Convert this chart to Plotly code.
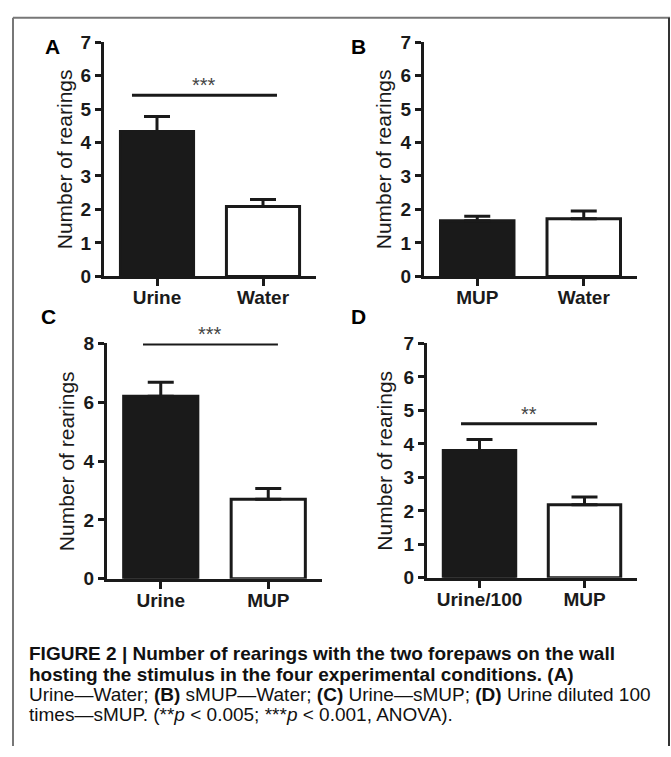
import plotly.graph_objects as go

W, H = 671, 757

# ---------------- data ----------------
cats_a = ["Urine", "Water"]
vals_a = [4.33, 2.09]
err_a = [0.45, 0.21]
sig_a = 5.41
stars_a = "***"

cats_b = ["MUP", "Water"]
vals_b = [1.66, 1.72]
err_b = [0.14, 0.23]

cats_c = ["Urine", "MUP"]
vals_c = [6.21, 2.70]
err_c = [0.47, 0.37]
sig_c = 7.98
stars_c = "***"

cats_d = ["Urine/100", "MUP"]
vals_d = [3.80, 2.18]
err_d = [0.33, 0.23]
sig_d = 4.60
stars_d = "**"

yticks_7 = [0, 1, 2, 3, 4, 5, 6, 7]
yticks_8 = [0, 2, 4, 6, 8]

ytitle = "Number of rearings"

FONT = "Liberation Sans, Arial, Helvetica, sans-serif"
NARROW = "Liberation Sans Narrow, Arial Narrow, Liberation Sans, Arial, sans-serif"
INK = "#1a1a1a"


def px(v):
    return v / W


def py(v):
    return 1 - v / H


panels = [
    dict(cats=cats_a, vals=vals_a, err=err_a, ticks=yticks_7, ymax=7,
         xd=(104, 316), yd=(33, 274), sig=sig_a, stars=stars_a, sigx=(-0.236, 1.132),
         letter="A", lpos=(52, 38), tx=64),
    dict(cats=cats_b, vals=vals_b, err=err_b, ticks=yticks_7, ymax=7,
         xd=(424, 637), yd=(33, 274), sig=None, stars=None, sigx=None,
         letter="B", lpos=(358, 38), tx=383),
    dict(cats=cats_c, vals=vals_c, err=err_c, ticks=yticks_8, ymax=8,
         xd=(107, 322), yd=(343, 585), sig=sig_c, stars=stars_c, sigx=(-0.165, 1.09),
         letter="C", lpos=(48, 315), tx=66),
    dict(cats=cats_d, vals=vals_d, err=err_d, ticks=yticks_7, ymax=7,
         xd=(427, 637), yd=(343, 584), sig=sig_d, stars=stars_d, sigx=(-0.176, 1.119),
         letter="D", lpos=(358, 315), tx=385),
]

fig = go.Figure()
layout = {}
annotations = []
shapes = []

for i, p in enumerate(panels, start=1):
    xa = "x" if i == 1 else f"x{i}"
    ya = "y" if i == 1 else f"y{i}"
    xkey = "xaxis" if i == 1 else f"xaxis{i}"
    ykey = "yaxis" if i == 1 else f"yaxis{i}"

    fig.add_trace(go.Bar(
        x=[0, 1], y=p["vals"], width=0.69,
        marker=dict(color=[INK, "white"], line=dict(color=INK, width=3)),
        error_y=dict(type="data", array=p["err"], arrayminus=[0, 0], symmetric=False,
                     thickness=3, width=13, color=INK),
        xaxis=xa, yaxis=ya, showlegend=False, hoverinfo="skip",
    ))

    if p["sig"] is not None:
        fig.add_trace(go.Scatter(
            x=list(p["sigx"]), y=[p["sig"], p["sig"]], mode="lines",
            line=dict(color=INK, width=3), cliponaxis=False,
            xaxis=xa, yaxis=ya, showlegend=False, hoverinfo="skip",
        ))
        annotations.append(dict(
            x=(p["sigx"][0] + p["sigx"][1]) / 2, y=p["sig"], xref=xa, yref=ya,
            text=p["stars"], showarrow=False, yanchor="bottom", yshift=-3,
            font=dict(family=FONT, size=20, color="#444"),
        ))

    layout[xkey] = dict(
        domain=[px(p["xd"][0]), px(p["xd"][1])], anchor=ya,
        range=[-0.5, 1.5], tickmode="array", tickvals=[0, 1], ticktext=p["cats"],
        showline=True, linewidth=3, linecolor=INK, showgrid=False, zeroline=False,
        ticks="outside", ticklen=7, tickwidth=3, tickcolor=INK, ticklabelstandoff=-5,
        tickfont=dict(family=FONT, size=19, color=INK, weight="bold"),
        fixedrange=True,
    )
    layout[ykey] = dict(
        domain=[py(p["yd"][1]), py(p["yd"][0])], anchor=xa,
        range=[0, p["ymax"]], tickmode="array", tickvals=p["ticks"],
        showline=True, linewidth=3, linecolor=INK, showgrid=False, zeroline=False,
        ticks="outside", ticklen=6, tickwidth=3, tickcolor=INK,
        tickfont=dict(family=FONT, size=19, color=INK, weight="bold"),
        fixedrange=True,
    )

    annotations.append(dict(
        x=px(p["tx"]), y=py((p["yd"][0] + p["yd"][1]) / 2), xref="paper", yref="paper",
        text=ytitle, textangle=-90, showarrow=False, xanchor="center", yanchor="middle",
        font=dict(family=FONT, size=21, color=INK),
    ))
    annotations.append(dict(
        x=px(p["lpos"][0]), y=py(p["lpos"][1]), xref="paper", yref="paper",
        text=f"<b>{p['letter']}</b>", showarrow=False, xanchor="center", yanchor="middle",
        font=dict(family=FONT, size=21, color="black"),
    ))

# caption
caption_lines = [
    "<b>FIGURE 2 | Number of rearings with the two forepaws on the wall</b>",
    "<b>hosting the stimulus in the four experimental conditions. (A)</b>",
    "Urine—Water; <b>(B)</b> sMUP—Water; <b>(C)</b> Urine—sMUP; <b>(D)</b> Urine diluted 100",
    "times—sMUP. (**<i>p</i> &lt; 0.005; ***<i>p</i> &lt; 0.001, ANOVA).",
]
caption_y = [662, 683, 704, 725]
for txt, yy in zip(caption_lines, caption_y):
    annotations.append(dict(
        x=px(27), y=py(yy), xref="paper", yref="paper", text=txt, showarrow=False,
        xanchor="left", yanchor="middle",
        font=dict(family=NARROW, size=19, color="#111"),
    ))

# frame
shapes.append(dict(type="line", xref="paper", yref="paper", x0=px(13), x1=px(13),
                   y0=0, y1=py(8), line=dict(color="#777", width=2)))
shapes.append(dict(type="line", xref="paper", yref="paper", x0=px(13), x1=px(670),
                   y0=py(8), y1=py(8), line=dict(color="#777", width=2)))
shapes.append(dict(type="line", xref="paper", yref="paper", x0=px(669), x1=px(669),
                   y0=0, y1=py(8), line=dict(color="#333", width=2)))

fig.update_layout(
    width=W, height=H, margin=dict(l=0, r=0, t=0, b=0),
    paper_bgcolor="white", plot_bgcolor="white",
    annotations=annotations, shapes=shapes, bargap=0.3,
    **layout,
)

fig.write_html(
    "out.html",
    config={"displayModeBar": False},
    post_script="document.body.style.margin='0';document.body.style.overflow='hidden';",
)
